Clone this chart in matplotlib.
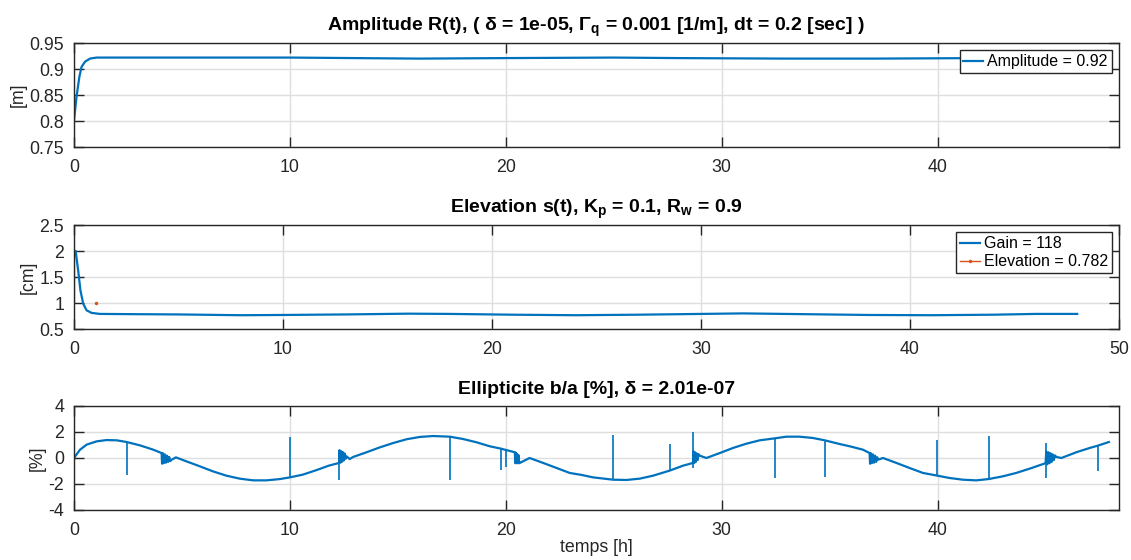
import matplotlib
matplotlib.use('Agg')
import matplotlib.pyplot as plt
from matplotlib.ticker import FormatStrFormatter

# fonts (Arial-like, bold mathtext subscripts in the titles)
plt.rcParams['font.family'] = ['Liberation Sans', 'DejaVu Sans']
plt.rcParams['mathtext.fontset'] = 'custom'
plt.rcParams['mathtext.rm'] = 'Liberation Sans'
plt.rcParams['mathtext.bf'] = 'Liberation Sans:bold'
plt.rcParams['axes.unicode_minus'] = False

# --- data ---
# amplitude R(t) [m]
amp_t = [0, 0.12, 0.25, 0.35, 0.51, 0.74, 1.05, 2, 5, 10, 13, 16, 20, 25, 28, 33, 37, 42, 45, 48]
amp_v = [0.80, 0.847, 0.885, 0.904, 0.914, 0.920, 0.922, 0.922, 0.922, 0.922, 0.921, 0.920,
         0.921, 0.922, 0.921, 0.920, 0.920, 0.921, 0.922, 0.922]

# gain curve in panel 2 [cm]
gain_t = [0, 0, 0.08, 0.2, 0.31, 0.44, 0.6, 0.84, 1.24, 3, 5, 8, 10, 13, 16, 18, 21, 24,
          27, 30, 32, 35, 38, 41, 44, 46, 48]
gain_v = [1.0, 2.0, 2.0, 1.63, 1.24, 0.99, 0.86, 0.81, 0.79, 0.785, 0.78, 0.765, 0.77, 0.78,
          0.795, 0.79, 0.775, 0.765, 0.775, 0.79, 0.80, 0.785, 0.77, 0.765, 0.775, 0.79, 0.79]

# elevation marker
elev_t = [1.04]
elev_v = [1.0]

# ellipticity b/a [%]
ell_t = [0, 0.28, 0.59, 1.05, 1.51, 1.98, 2.44, 3.06, 3.67, 4.06,
         4.08, 4.12, 4.16, 4.21, 4.26, 4.31, 4.36, 4.41, 4.46, 4.52, 4.72,
         5.21, 5.83, 6.44, 7.06, 7.68, 8.3, 8.92, 9.54, 10.0, 10.6, 11.2, 11.8, 12.28,
         12.30, 12.34, 12.38, 12.42, 12.46, 12.50, 12.54, 12.58, 12.62, 12.77, 12.93,
         13.55, 14.17, 14.78, 15.4, 16.02, 16.63, 17.41, 18.02, 18.64, 19.26, 19.77, 20.0, 20.42,
         20.44, 20.47, 20.50, 20.53, 20.56, 20.59, 20.62, 20.65, 21.1,
         21.73, 22.35, 22.96, 23.5, 24.04, 24.97, 25.59, 26.2, 26.82, 27.59, 28.21, 28.67,
         28.69, 28.72, 28.76, 28.80, 28.84, 28.88, 28.92, 28.98, 29.29,
         29.91, 30.52, 31.14, 31.76, 32.45, 32.99, 33.6, 34.22, 34.77, 35.45, 35.93, 36.54, 36.85,
         36.87, 36.91, 36.95, 37.0, 37.05, 37.10, 37.15, 37.20, 37.24, 37.47,
         38.09, 38.7, 39.32, 39.98, 40.56, 41.17, 41.79, 42.36, 43.02, 43.64, 44.26, 45.0,
         45.03, 45.08, 45.13, 45.18, 45.23, 45.28, 45.33, 45.38, 45.43, 45.50, 45.73,
         46.42, 47.04, 47.42, 47.93]
ell_v = [0, 0.64, 1.03, 1.28, 1.38, 1.36, 1.23, 0.97, 0.64, 0.38,
         -0.44, 0.36, -0.40, 0.28, -0.36, 0.18, -0.30, 0.08, -0.24, -0.14, 0.05,
         -0.26, -0.64, -1.03, -1.36, -1.59, -1.72, -1.72, -1.62, -1.49, -1.28, -0.95, -0.59, -0.38,
         0.60, -0.36, 0.52, -0.28, 0.44, -0.18, 0.34, -0.06, 0.13, -0.08, 0.08,
         0.44, 0.82, 1.15, 1.44, 1.62, 1.69, 1.64, 1.46, 1.21, 0.90, 0.72, 0.62, 0.44,
         -0.40, 0.40, -0.40, 0.30, -0.40, 0.20, -0.40, -0.38, 0.0,
         -0.38, -0.77, -1.15, -1.30, -1.49, -1.67, -1.69, -1.59, -1.36, -0.97, -0.59, -0.38,
         0.52, -0.40, 0.44, -0.30, 0.36, -0.16, 0.30, 0.18, 0.0,
         0.38, 0.77, 1.10, 1.36, 1.51, 1.64, 1.64, 1.54, 1.36, 1.08, 0.90, 0.64, 0.38,
         -0.44, 0.36, -0.40, 0.28, -0.36, 0.18, -0.30, 0.06, -0.13, 0.0,
         -0.38, -0.77, -1.15, -1.36, -1.54, -1.67, -1.72, -1.62, -1.41, -1.15, -0.82, -0.40,
         0.50, -0.48, 0.44, -0.40, 0.36, -0.30, 0.28, -0.16, 0.20, 0.08, 0.0,
         0.44, 0.77, 0.95, 1.23]

# single-sample outliers (vertical spikes)
spike_t = [2.44, 10.0, 12.28, 17.41, 19.77, 20.0, 24.97, 27.59, 28.67, 32.45, 34.77, 39.98, 42.36, 45.03, 47.42]
spike_lo = [-1.28, -1.49, -1.67, -1.67, -0.90, -0.72, -1.67, -0.97, -0.77, -1.54, -1.46, -1.36, -1.62, -1.54, -1.03]
spike_hi = [1.23, 1.59, 0.60, 1.64, 0.72, 0.62, 1.74, 1.10, 2.00, 1.51, 1.36, 1.41, 1.67, 1.15, 0.95]

titles = ['Amplitude R(t), ( δ = 1e-05, Γ$_\\mathbf{q}$ = 0.001 [1/m], dt = 0.2 [sec] )',
          'Elevation s(t), K$_\\mathbf{p}$ = 0.1, R$_\\mathbf{w}$ = 0.9',
          'Ellipticite b/a [%], δ = 2.01e-07']

blue = '#0072BD'
orange = '#D95319'
dark = '#262626'
fs = 12.8      # axes text
fs_title = 14
fs_leg = 11.5

fig = plt.figure(figsize=(11.31, 5.6), dpi=100)
left, width, height = 0.0654, 0.924, 0.1857
ax1 = fig.add_axes([left, 0.7375, width, height])
ax2 = fig.add_axes([left, 0.4125, width, height])
ax3 = fig.add_axes([left, 0.0893, width, height])


def style(ax):
    ax.tick_params(direction='in', length=7, width=1, top=True, right=True,
                   labelsize=fs, colors=dark)
    ax.tick_params(axis='x', pad=9)
    ax.tick_params(axis='y', pad=7)
    for s in ax.spines.values():
        s.set_color(dark)
        s.set_linewidth(1)
    ax.grid(True, color='#dedede', linewidth=1)
    ax.set_axisbelow(True)
    ax.yaxis.set_major_formatter(FormatStrFormatter('%g'))


def add_legend(ax):
    leg = ax.legend(loc='upper right', fancybox=False, edgecolor=dark, framealpha=1,
                    fontsize=fs_leg, handlelength=1.25, borderpad=0.25, borderaxespad=0.45,
                    handletextpad=0.25, labelspacing=0.2)
    leg.get_frame().set_linewidth(1)


# panel 1
ax1.plot(amp_t, amp_v, color=blue, lw=1.6, label='Amplitude = 0.92')
ax1.set_xlim(0, 48.4)
ax1.set_ylim(0.75, 0.95)
ax1.set_xticks([0, 10, 20, 30, 40])
ax1.set_yticks([0.75, 0.8, 0.85, 0.9, 0.95])
ax1.set_ylabel('[m]', fontsize=fs, color=dark, labelpad=2)
ax1.set_title(titles[0], fontsize=fs_title, fontweight='bold', pad=9)
style(ax1)
add_legend(ax1)

# panel 2
ax2.plot(gain_t, gain_v, color=blue, lw=1.6, label='Gain = 118')
ax2.plot(elev_t, elev_v, '.-', color=orange, lw=1, markersize=3, label='Elevation = 0.782')
ax2.set_xlim(0, 50)
ax2.set_ylim(0.5, 2.5)
ax2.set_yticks([0.5, 1, 1.5, 2, 2.5])
ax2.set_ylabel('[cm]', fontsize=fs, color=dark, labelpad=2)
ax2.set_title(titles[1], fontsize=fs_title, fontweight='bold', pad=9)
style(ax2)
add_legend(ax2)

# panel 3
ax3.plot(ell_t, ell_v, color=blue, lw=1.6)
ax3.vlines(spike_t, spike_lo, spike_hi, color=blue, lw=1.2)
ax3.set_xlim(0, 48.4)
ax3.set_ylim(-4, 4)
ax3.set_xticks([0, 10, 20, 30, 40])
ax3.set_yticks([-4, -2, 0, 2, 4])
ax3.set_ylabel('[%]', fontsize=fs, color=dark, labelpad=2)
ax3.set_xlabel('temps [h]', fontsize=fs, color=dark, labelpad=0)
ax3.set_title(titles[2], fontsize=fs_title, fontweight='bold', pad=9)
style(ax3)

fig.savefig('out.png', dpi=100)
